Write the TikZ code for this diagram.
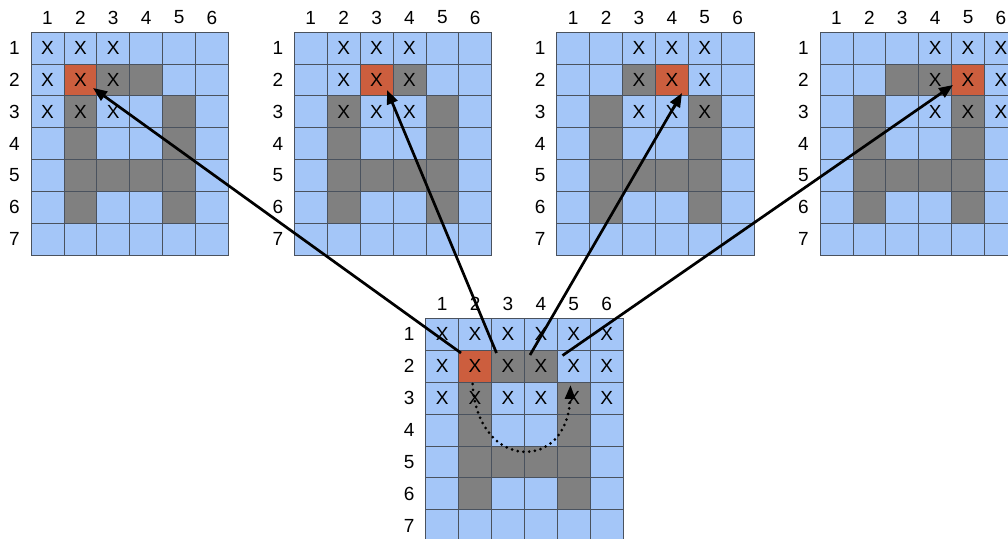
\documentclass[tikz,border=0pt]{standalone}
\usepackage{fontspec}
\setmainfont{Liberation Sans}
\usetikzlibrary{arrows.meta}
\definecolor{lightcell}{HTML}{A4C6F8}
\definecolor{darkcell}{HTML}{808080}
\definecolor{redcell}{HTML}{CC5E3E}
\definecolor{gridline}{HTML}{4A525E}
\tikzset{
  cell/.style={draw=gridline, line width=0.8pt, minimum width=32.9pt, minimum height=31.9pt, inner sep=0pt, font=\fontsize{19}{19}\selectfont},
  lbl/.style={inner sep=0pt, font=\fontsize{19}{19}\selectfont},
  link/.style={line width=2.7pt, -{Triangle[length=14pt,width=11pt]}},
  hop/.style={line width=3pt, line cap=round, dash pattern=on 0pt off 5.8pt, -{Triangle[length=14pt,width=10pt]}}
}
\newcommand{\drawgrid}[6]{%
  \foreach \c in {1,...,6}{%
    \foreach \r in {1,...,7}{%
      \pgfmathtruncatemacro{\isdark}{((\r==2) && (\c==3 || \c==4)) || ((\r==3 || \r==4 || \r==6) && (\c==2 || \c==5)) || ((\r==5) && (\c>=2) && (\c<=5))}
      \pgfmathtruncatemacro{\isred}{(\r==2) && (\c==#4)}
      \pgfmathtruncatemacro{\hasx}{(\r<=3) && (\c>=#5) && (\c<=#6)}
      \def\cellcol{lightcell}%
      \ifnum\isdark=1 \def\cellcol{darkcell}\fi
      \ifnum\isred=1 \def\cellcol{redcell}\fi
      \node[cell, fill=\cellcol] (#1-\c-\r) at ({#2+(\c-0.5)*32.9},{#3+(\r-0.5)*31.9}) {\ifnum\hasx=1 X\fi};
    }%
  }%
  \foreach \c in {1,...,6}{\node[lbl] (#1-col\c) at ({#2+(\c-0.5)*32.9},{#3-14.5}) {\c};}
  \foreach \r in {1,...,7}{\node[lbl] (#1-row\r) at ({#2-16.5},{#3+(\r-0.5)*31.9}) {\r};}
}
\begin{document}
\begin{tikzpicture}[x=1pt,y=-1pt]
\clip (0,0) rectangle (1008,538);
\fill[white] (0,0) rectangle (1008,538);
\drawgrid{ga}{31}{32}{2}{1}{3}
\drawgrid{gb}{294.3}{32}{3}{2}{4}
\drawgrid{gc}{556.7}{32}{4}{3}{5}
\drawgrid{gd}{820}{32}{5}{4}{6}
\drawgrid{bt}{425.7}{318.3}{2}{1}{6}
% connector ends
\coordinate (s1) at (461,353);
\coordinate (s2) at (496.5,353);
\coordinate (s3) at (530,355);
\coordinate (s4) at (562.5,355.5);
\coordinate (t1) at (93,88);
\coordinate (t2) at (387,90);
\coordinate (t3) at (682,93);
\coordinate (t4) at (953,85);
\draw[link] (s1) -- (t1);
\draw[link] (s2) -- (t2);
\draw[link] (s3) -- (t3);
\draw[link] (s4) -- (t4);
\coordinate (d0) at (472.5,384);
\coordinate (d1) at (570.5,385);
\draw[hop] (d0) .. controls (478,472) and (568,472) .. (d1);
\end{tikzpicture}
\end{document}
